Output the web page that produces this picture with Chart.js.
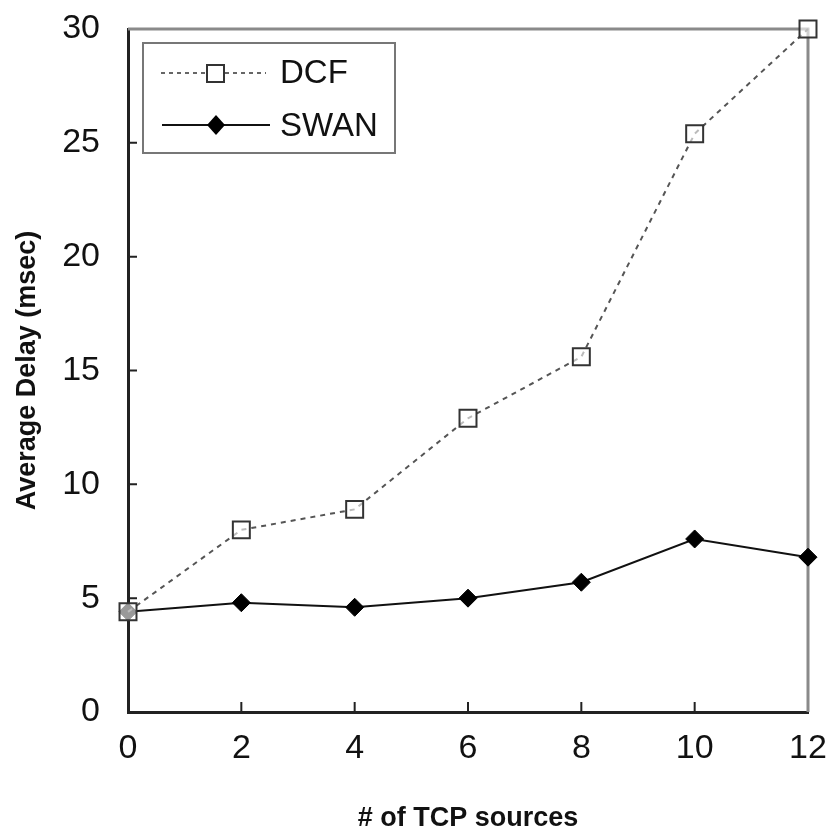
<!DOCTYPE html>
<html>
<head>
<meta charset="utf-8">
<script src="https://cdn.jsdelivr.net/npm/chart.js@4.4.1/dist/chart.umd.min.js"></script>
<style>
  html, body { margin: 0; padding: 0; background: #fff; }
  canvas { display: block; }
</style>
</head>
<body>
<canvas id="lienzo" width="829" height="835"></canvas>
<script>
// datos
const fuentes = [0, 2, 4, 6, 8, 10, 12]
const dcf = [4.4, 8.0, 8.9, 12.9, 15.6, 25.4, 30.0]
const swan = [4.4, 4.8, 4.6, 5.0, 5.7, 7.6, 6.8]
const yTicks = [0, 5, 10, 15, 20, 25, 30]
const xTicks = [0, 2, 4, 6, 8, 10, 12]

const puntos = (vals) => fuentes.map((x, i) => ({x: x, y: vals[i]}))

Chart.defaults.font.family = '"Liberation Sans", Arial, sans-serif'
Chart.defaults.color = '#111'

// sin relleno extra por las etiquetas
const sinPadding = (s) => {
    s.paddingTop = 0
    s.paddingBottom = 0
    s.paddingLeft = 0
    s.paddingRight = 0
}

// marco gris arriba/derecha y marcas hacia adentro
const marco = {
    id: 'marco',
    beforeDatasetsDraw(chart) {
        const {ctx, chartArea: a, scales} = chart
        ctx.save()
        ctx.strokeStyle = '#8a8a8a'
        ctx.lineWidth = 3
        ctx.beginPath()
        ctx.moveTo(a.left, a.top)
        ctx.lineTo(a.right, a.top)
        ctx.lineTo(a.right, a.bottom)
        ctx.stroke()
        ctx.strokeStyle = '#222'
        ctx.lineWidth = 2
        ctx.beginPath()
        yTicks.slice(1, -1).forEach(v => {
            const y = scales.y.getPixelForValue(v)
            ctx.moveTo(a.left, y)
            ctx.lineTo(a.left + 9, y)
        })
        xTicks.slice(1, -1).forEach(v => {
            const x = scales.x.getPixelForValue(v)
            ctx.moveTo(x, a.bottom)
            ctx.lineTo(x, a.bottom - 10)
        })
        ctx.stroke()
        ctx.restore()
    }
}

// leyenda dentro del area
const leyenda = {
    id: 'leyenda',
    afterDraw(chart) {
        const ctx = chart.ctx
        ctx.save()
        ctx.fillStyle = '#fff'
        ctx.fillRect(143, 43, 252, 110)
        ctx.strokeStyle = '#777'
        ctx.lineWidth = 2
        ctx.strokeRect(143, 43, 252, 110)

        // DCF
        ctx.strokeStyle = '#666'
        ctx.lineWidth = 2
        ctx.setLineDash([4, 4])
        ctx.beginPath()
        ctx.moveTo(161, 73)
        ctx.lineTo(266, 73)
        ctx.stroke()
        ctx.setLineDash([])
        ctx.fillStyle = '#fff'
        ctx.fillRect(207, 65, 17, 17)
        ctx.strokeStyle = '#333'
        ctx.strokeRect(207, 65, 17, 17)

        // SWAN
        ctx.strokeStyle = '#111'
        ctx.beginPath()
        ctx.moveTo(162, 125)
        ctx.lineTo(270, 125)
        ctx.stroke()
        ctx.fillStyle = '#000'
        ctx.beginPath()
        ctx.moveTo(216, 115)
        ctx.lineTo(225, 125)
        ctx.lineTo(216, 135)
        ctx.lineTo(207, 125)
        ctx.closePath()
        ctx.fill()

        ctx.fillStyle = '#111'
        ctx.font = '33px "Liberation Sans", Arial, sans-serif'
        ctx.textBaseline = 'middle'
        ctx.fillText('DCF', 280, 74)
        ctx.fillText('SWAN', 280, 127)
        ctx.restore()
    }
}

new Chart(document.getElementById('lienzo'), {
    type: 'line',
    data: {
        datasets: [{
            label: 'DCF',
            data: puntos(dcf),
            borderColor: '#555',
            borderWidth: 2,
            borderDash: [5, 5],
            pointStyle: 'rect',
            pointRadius: 12,
            pointBorderWidth: 2,
            pointBorderColor: '#333',
            pointBackgroundColor: 'rgba(255,255,255,0.6)',
            clip: false
        }, {
            label: 'SWAN',
            data: puntos(swan),
            borderColor: '#111',
            borderWidth: 2,
            pointStyle: 'rectRot',
            pointRadius: 9,
            pointBorderWidth: 1,
            pointBorderColor: '#000',
            pointBackgroundColor: '#000',
            clip: false
        }]
    },
    options: {
        responsive: false,
        devicePixelRatio: 1,
        animation: false,
        layout: {padding: {top: 29, right: 21, left: 0, bottom: 0}},
        plugins: {
            legend: {display: false},
            tooltip: {enabled: false}
        },
        scales: {
            x: {
                type: 'linear',
                min: 0,
                max: 12,
                afterBuildTicks: (s) => { s.ticks = xTicks.map(v => ({value: v})) },
                afterFit: (s) => { s.height = 123; sinPadding(s) },
                grid: {display: false, drawTicks: false},
                border: {display: true, color: '#222', width: 3},
                ticks: {font: {size: 34}, padding: 16, color: '#111'},
                title: {
                    display: true,
                    text: '# of TCP sources',
                    font: {size: 27, weight: 'bold'},
                    padding: {top: 0, bottom: 0},
                    color: '#111'
                }
            },
            y: {
                min: 0,
                max: 30,
                afterBuildTicks: (s) => { s.ticks = yTicks.map(v => ({value: v})) },
                afterFit: (s) => { s.width = 128; sinPadding(s) },
                grid: {display: false, drawTicks: false},
                border: {display: true, color: '#222', width: 3},
                ticks: {font: {size: 34}, padding: 28, color: '#111'},
                title: {
                    display: true,
                    text: 'Average Delay (msec)',
                    font: {size: 27, weight: 'bold'},
                    padding: {top: 11, bottom: 0},
                    color: '#111'
                }
            }
        }
    },
    plugins: [marco, leyenda]
})
</script>
</body>
</html>
